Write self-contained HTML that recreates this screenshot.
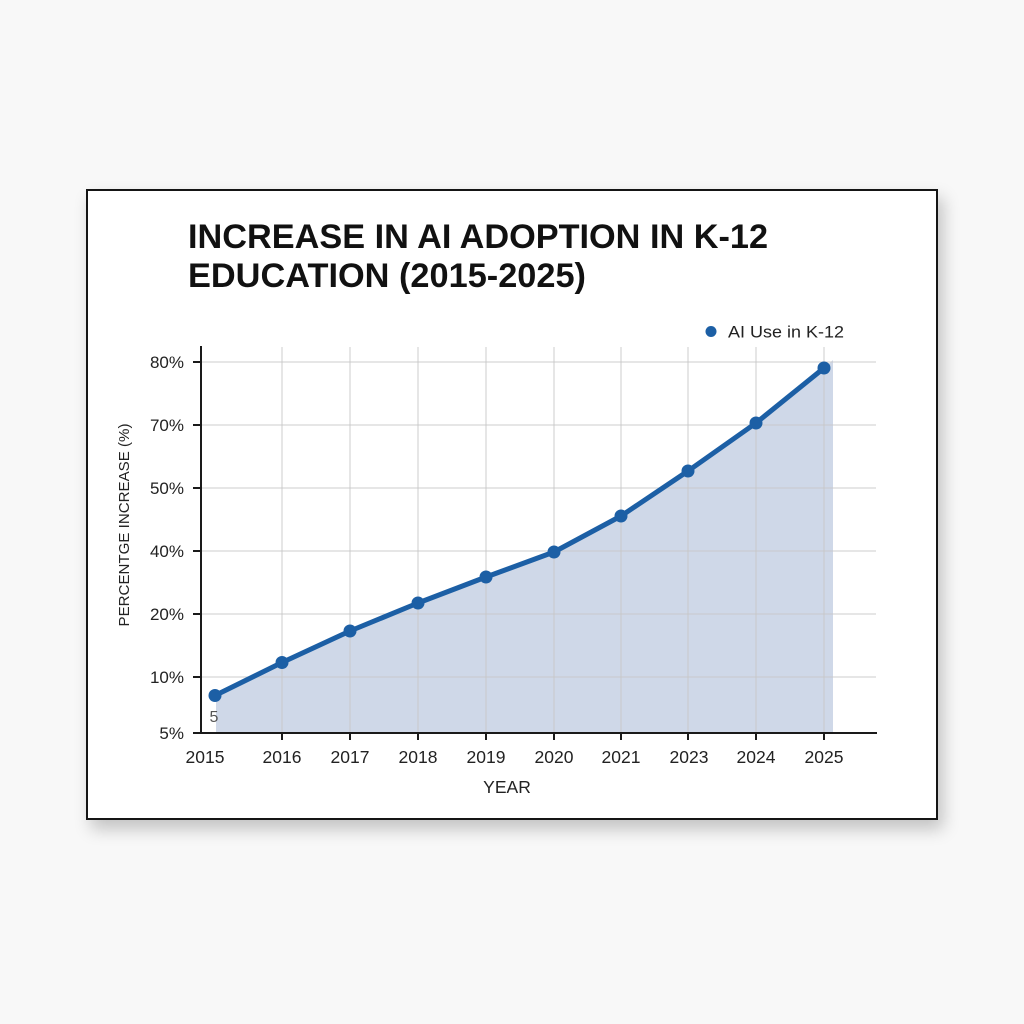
<!DOCTYPE html>
<html>
<head>
<meta charset="utf-8">
<style>
html,body{margin:0;padding:0;background:#f8f8f8;}
body{width:1024px;height:1024px;position:relative;overflow:hidden;font-family:"Liberation Sans",Arial,sans-serif;}
.frame{position:absolute;left:86px;top:189px;width:848px;height:627px;border:2.5px solid #151515;background:#fff;box-shadow:5px 9px 16px rgba(0,0,0,0.22);}
svg{position:absolute;left:0;top:0;}
</style>
</head>
<body>
<div class="frame"></div>
<svg width="1024" height="1024" viewBox="0 0 1024 1024" xmlns="http://www.w3.org/2000/svg">
  <!-- title -->
  <text x="188" y="248" font-family="Liberation Sans, Arial, sans-serif" font-weight="bold" font-size="34" fill="#111" textLength="580" lengthAdjust="spacingAndGlyphs">INCREASE IN AI ADOPTION IN K-12</text>
  <text x="188" y="287" font-family="Liberation Sans, Arial, sans-serif" font-weight="bold" font-size="34" fill="#111" textLength="398" lengthAdjust="spacingAndGlyphs">EDUCATION (2015-2025)</text>

  <!-- legend -->
  <circle cx="711" cy="331.5" r="5.5" fill="#1c5fa5"/>
  <text x="728" y="337.5" font-family="Liberation Sans, Arial, sans-serif" font-size="17" fill="#222" textLength="116" lengthAdjust="spacingAndGlyphs">AI Use in K-12</text>

  <!-- fill -->
  <polygon points="216,733 216,695.5 282,662.5 350,631 418,603 486,577 554,552 621,516 688,471 756,423 824,368 833,360 833,733" fill="#cfd8e8"/>

  <!-- gridlines -->
  <g stroke="#c8c8c8" stroke-opacity="0.7" stroke-width="1.3">
    <line x1="201" y1="362" x2="876" y2="362"/>
    <line x1="201" y1="425" x2="876" y2="425"/>
    <line x1="201" y1="488" x2="876" y2="488"/>
    <line x1="201" y1="551" x2="876" y2="551"/>
    <line x1="201" y1="614" x2="876" y2="614"/>
    <line x1="201" y1="677" x2="876" y2="677"/>
    <line x1="282" y1="347" x2="282" y2="733"/>
    <line x1="350" y1="347" x2="350" y2="733"/>
    <line x1="418" y1="347" x2="418" y2="733"/>
    <line x1="486" y1="347" x2="486" y2="733"/>
    <line x1="554" y1="347" x2="554" y2="733"/>
    <line x1="621" y1="347" x2="621" y2="733"/>
    <line x1="688" y1="347" x2="688" y2="733"/>
    <line x1="756" y1="347" x2="756" y2="733"/>
    <line x1="824" y1="347" x2="824" y2="733"/>
  </g>

  <!-- axes -->
  <g stroke="#1a1a1a" stroke-width="2">
    <line x1="201" y1="346" x2="201" y2="734"/>
    <line x1="200" y1="733" x2="877" y2="733"/>
    <line x1="193" y1="362" x2="201" y2="362"/>
    <line x1="193" y1="425" x2="201" y2="425"/>
    <line x1="193" y1="488" x2="201" y2="488"/>
    <line x1="193" y1="551" x2="201" y2="551"/>
    <line x1="193" y1="614" x2="201" y2="614"/>
    <line x1="193" y1="677" x2="201" y2="677"/>
    <line x1="193" y1="733" x2="201" y2="733"/>
    <line x1="282" y1="733" x2="282" y2="740"/>
    <line x1="350" y1="733" x2="350" y2="740"/>
    <line x1="418" y1="733" x2="418" y2="740"/>
    <line x1="486" y1="733" x2="486" y2="740"/>
    <line x1="554" y1="733" x2="554" y2="740"/>
    <line x1="621" y1="733" x2="621" y2="740"/>
    <line x1="688" y1="733" x2="688" y2="740"/>
    <line x1="756" y1="733" x2="756" y2="740"/>
    <line x1="824" y1="733" x2="824" y2="740"/>
  </g>

  <!-- y labels -->
  <g font-family="Liberation Sans, Arial, sans-serif" font-size="17" fill="#222" text-anchor="end">
    <text x="184" y="368">80%</text>
    <text x="184" y="431">70%</text>
    <text x="184" y="494">50%</text>
    <text x="184" y="557">40%</text>
    <text x="184" y="620">20%</text>
    <text x="184" y="683">10%</text>
    <text x="184" y="739">5%</text>
  </g>

  <!-- x labels -->
  <g font-family="Liberation Sans, Arial, sans-serif" font-size="17.5" fill="#222" text-anchor="middle">
    <text x="205" y="763">2015</text>
    <text x="282" y="763">2016</text>
    <text x="350" y="763">2017</text>
    <text x="418" y="763">2018</text>
    <text x="486" y="763">2019</text>
    <text x="554" y="763">2020</text>
    <text x="621" y="763">2021</text>
    <text x="689" y="763">2023</text>
    <text x="756" y="763">2024</text>
    <text x="824" y="763">2025</text>
    <text x="507" y="793">YEAR</text>
  </g>

  <!-- y axis title -->
  <text transform="translate(129,525) rotate(-90)" font-family="Liberation Sans, Arial, sans-serif" font-size="15" fill="#222" text-anchor="middle" textLength="203" lengthAdjust="spacingAndGlyphs">PERCENTGE INCREASE (%)</text>

  <!-- small label -->
  <text x="214" y="722" font-family="Liberation Sans, Arial, sans-serif" font-size="16" fill="#555" text-anchor="middle">5</text>

  <!-- line -->
  <polyline points="215,695.5 282,662.5 350,631 418,603 486,577 554,552 621,516 688,471 756,423 824,368" fill="none" stroke="#1c5fa5" stroke-width="5" stroke-linejoin="round" stroke-linecap="round"/>
  <g fill="#1c5fa5">
    <circle cx="215" cy="695.5" r="6.5"/>
    <circle cx="282" cy="662.5" r="6.5"/>
    <circle cx="350" cy="631" r="6.5"/>
    <circle cx="418" cy="603" r="6.5"/>
    <circle cx="486" cy="577" r="6.5"/>
    <circle cx="554" cy="552" r="6.5"/>
    <circle cx="621" cy="516" r="6.5"/>
    <circle cx="688" cy="471" r="6.5"/>
    <circle cx="756" cy="423" r="6.5"/>
    <circle cx="824" cy="368" r="6.5"/>
  </g>
</svg>
</body>
</html>
